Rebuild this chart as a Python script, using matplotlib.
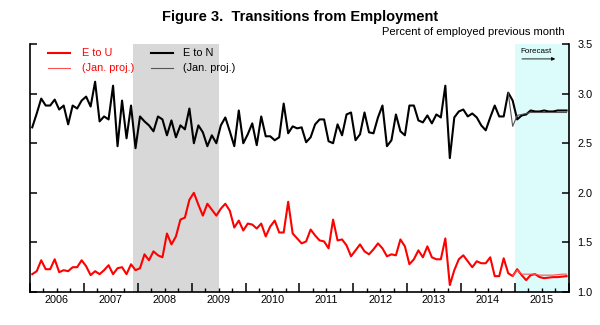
import matplotlib
matplotlib.use("Agg")
import matplotlib.pyplot as plt
import numpy as np
import pandas as pd
from matplotlib.ticker import FixedLocator, FuncFormatter

plt.rcParams['font.family'] = ['Liberation Sans', 'DejaVu Sans']

# monthly series, Jan 2006 - Dec 2015 (percent of employed previous month)
months = pd.period_range('2006-01', '2015-12', freq='M')

e_to_u = [
    1.18, 1.21, 1.32, 1.23, 1.23, 1.33, 1.20, 1.22, 1.21, 1.25, 1.25, 1.32,
    1.26, 1.17, 1.21, 1.18, 1.22, 1.27, 1.18, 1.24, 1.25, 1.18, 1.28, 1.22,
    1.24, 1.38, 1.32, 1.41, 1.37, 1.35, 1.59, 1.48, 1.56, 1.73, 1.75, 1.93,
    2.00, 1.88, 1.77, 1.89, 1.83, 1.77, 1.84, 1.89, 1.82, 1.65, 1.72, 1.62,
    1.69, 1.68, 1.64, 1.69, 1.56, 1.66, 1.72, 1.60, 1.60, 1.91, 1.59, 1.54,
    1.49, 1.51, 1.63, 1.57, 1.52, 1.51, 1.44, 1.73, 1.52, 1.53, 1.47, 1.36,
    1.42, 1.48, 1.41, 1.38, 1.43, 1.49, 1.44, 1.36, 1.38, 1.37, 1.53, 1.46,
    1.28, 1.33, 1.42, 1.35, 1.46, 1.35, 1.33, 1.33, 1.54, 1.07, 1.22, 1.33,
    1.37, 1.31, 1.25, 1.31, 1.29, 1.29, 1.35, 1.16, 1.16, 1.34, 1.19, 1.16,
    1.23, 1.17, 1.12, 1.17, 1.18, 1.15, 1.14, 1.145, 1.15, 1.15, 1.155, 1.16,
]

e_to_n = [
    2.66, 2.80, 2.95, 2.88, 2.88, 2.94, 2.84, 2.88, 2.69, 2.88, 2.85, 2.93,
    2.97, 2.87, 3.12, 2.72, 2.77, 2.74, 3.08, 2.47, 2.93, 2.55, 2.88, 2.45,
    2.77, 2.72, 2.68, 2.62, 2.77, 2.74, 2.58, 2.73, 2.56, 2.68, 2.64, 2.85,
    2.50, 2.68, 2.61, 2.47, 2.58, 2.50, 2.68, 2.76, 2.62, 2.47, 2.83, 2.50,
    2.59, 2.70, 2.48, 2.77, 2.57, 2.57, 2.53, 2.56, 2.90, 2.60, 2.67, 2.65,
    2.66, 2.51, 2.56, 2.69, 2.74, 2.74, 2.52, 2.50, 2.69, 2.58, 2.79, 2.81,
    2.53, 2.59, 2.81, 2.61, 2.60, 2.76, 2.88, 2.47, 2.53, 2.79, 2.62, 2.58,
    2.88, 2.88, 2.73, 2.71, 2.78, 2.70, 2.79, 2.76, 3.08, 2.35, 2.76, 2.82,
    2.84, 2.77, 2.80, 2.76, 2.68, 2.63, 2.76, 2.88, 2.77, 2.77, 3.01, 2.93,
    2.74, 2.78, 2.79, 2.83, 2.82, 2.82, 2.83, 2.82, 2.82, 2.83, 2.83, 2.83,
]

# January projections, Dec 2014 / Nov 2014 onward
u_proj_start = '2014-12'
e_to_u_proj = [1.16, 1.22, 1.18, 1.18, 1.18, 1.18, 1.17, 1.17, 1.17, 1.17,
               1.175, 1.18, 1.18]
n_proj_start = '2014-11'
e_to_n_proj = [3.01, 2.67, 2.78, 2.79, 2.80, 2.81, 2.81, 2.81, 2.81, 2.81,
               2.81, 2.81, 2.81, 2.81]

recession = ('2007-12', '2009-06')
forecast_start = '2015-01'
years = list(range(2006, 2016))


def dec_year(p):
    # middle of the month as a decimal year
    return p.year + (p.month - 0.5) / 12.0


def month_start(s):
    p = pd.Period(s, freq='M')
    return p.year + (p.month - 1) / 12.0


x = np.array([dec_year(p) for p in months])
xu_proj = np.array([dec_year(p) for p in
                    pd.period_range(u_proj_start, periods=len(e_to_u_proj), freq='M')])
xn_proj = np.array([dec_year(p) for p in
                    pd.period_range(n_proj_start, periods=len(e_to_n_proj), freq='M')])

fig = plt.figure(figsize=(6.0, 3.25), dpi=100)
ax = fig.add_axes([0.05, 0.1015, 0.898, 0.763])

ax.axvspan(month_start(recession[0]), month_start(recession[1]) + 1 / 12.0,
           color='#d8d8d8', lw=0, zorder=0)
ax.axvspan(month_start(forecast_start), years[-1] + 1, color='#dcfbfb', lw=0, zorder=0)

ax.plot(x, e_to_u, color='#ff0000', lw=1.5, zorder=3)
ax.plot(xu_proj, e_to_u_proj, color='#ff5050', lw=0.8, zorder=4)
ax.plot(x, e_to_n, color='black', lw=1.5, zorder=3)
ax.plot(xn_proj, e_to_n_proj, color='#555555', lw=0.8, zorder=4)

ax.set_xlim(years[0], years[-1] + 1)
ax.set_ylim(1.0, 3.5)

for side in ['left', 'right', 'bottom']:
    ax.spines[side].set_linewidth(1.2)
ax.spines['top'].set_visible(False)

# year boundaries as long ticks, quarters as short ones, labels at mid-year
ax.xaxis.set_major_locator(FixedLocator(years + [years[-1] + 1]))
ax.xaxis.set_major_formatter(FuncFormatter(lambda v, pos: ''))
quarters = [y + q / 4.0 for y in years for q in (1, 2, 3)]
ax.xaxis.set_minor_locator(FixedLocator(quarters))
ax.xaxis.set_minor_formatter(
    FuncFormatter(lambda v, pos: str(int(v)) if abs(v - int(v) - 0.5) < 1e-6 else ''))
ax.tick_params(axis='x', which='major', direction='in', length=6.5, width=1.1)
ax.tick_params(axis='x', which='minor', direction='in', length=3.2, width=1.0,
               labelsize=7.8, pad=2.5)

ax.set_yticks([1.0, 1.5, 2.0, 2.5, 3.0, 3.5])
ax.yaxis.set_major_formatter(FuncFormatter(lambda v, pos: '%.1f' % v))
ax.tick_params(axis='y', direction='in', length=5, width=1.1, left=True, right=True,
               labelleft=False, labelright=True, labelsize=7.8, pad=6)

fig.text(0.5, 0.948, 'Figure 3.  Transitions from Employment', ha='center', va='center',
         fontsize=10.5, fontweight='bold')
ax.text(0.993, 1.028, 'Percent of employed previous month', transform=ax.transAxes,
        ha='right', va='bottom', fontsize=8)

# legend drawn by hand, two columns
rows = [0.962, 0.903]
ax.plot([0.033, 0.074], [rows[0]] * 2, transform=ax.transAxes, color='#ff0000', lw=1.5)
ax.plot([0.033, 0.074], [rows[1]] * 2, transform=ax.transAxes, color='#ff5050', lw=0.8)
ax.plot([0.224, 0.265], [rows[0]] * 2, transform=ax.transAxes, color='black', lw=1.5)
ax.plot([0.224, 0.265], [rows[1]] * 2, transform=ax.transAxes, color='#555555', lw=0.8)
ax.text(0.096, rows[0], 'E to U', transform=ax.transAxes, color='#ff0000',
        va='center', fontsize=7.8)
ax.text(0.096, rows[1], '(Jan. proj.)', transform=ax.transAxes, color='#ff0000',
        va='center', fontsize=7.8)
ax.text(0.284, rows[0], 'E to N', transform=ax.transAxes, color='black',
        va='center', fontsize=7.8)
ax.text(0.284, rows[1], '(Jan. proj.)', transform=ax.transAxes, color='black',
        va='center', fontsize=7.8)

ax.text(2015.1, 3.42, 'Forecast', fontsize=5.8, va='center', ha='left')
ax.annotate('', xy=(2015.8, 3.35), xytext=(2015.08, 3.35),
            arrowprops=dict(arrowstyle='-|>', color='black', lw=0.6,
                            mutation_scale=5))

fig.savefig('out.png', dpi=100)
